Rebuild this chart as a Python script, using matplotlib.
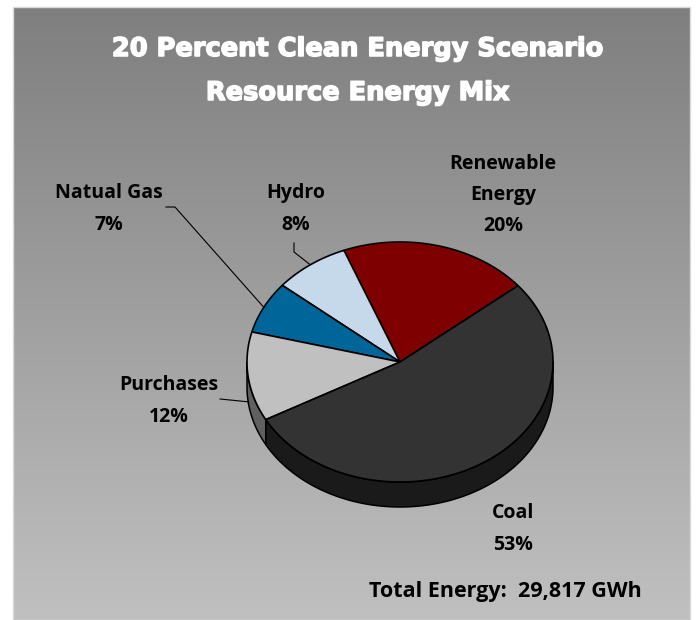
import numpy as np
import matplotlib
matplotlib.use("Agg")
import matplotlib.pyplot as plt
import matplotlib.patheffects as pe
from matplotlib.patches import Polygon, Rectangle
from matplotlib.colors import to_rgb

# ---------------- data ----------------
categories = ["Renewable\nEnergy", "Hydro", "Natual Gas", "Purchases", "Coal"]
shares = [20, 8, 7, 12, 53]
colors = ["#7F0000", "#C6D9EA", "#006699", "#C0C0C0", "#333333"]
title_lines = ["20 Percent Clean Energy Scenario", "Resource Energy Mix"]
total_text = "Total Energy:  29,817 GWh"

# ---------------- layout ----------------
W, H = 696, 620
fig = plt.figure(figsize=(W / 100, H / 100), dpi=100)
fig.patch.set_facecolor("white")
ax = fig.add_axes([0, 0, 1, 1])
ax.axis("off")

# chart area with vertical gradient
fx0, fy0, fx1, fy1 = 13, 7, 690, 620
grad = np.linspace(0, 1, 256).reshape(-1, 1, 1)
top = np.array([127, 127, 127]) / 255
bot = np.array([192, 192, 192]) / 255
img = top + (bot - top) * grad
ax.imshow(img, extent=(fx0, fx1, fy1, fy0), aspect="auto", zorder=0, interpolation="bilinear")
ax.add_patch(Rectangle((fx0, fy0), fx1 - fx0, fy1 - fy0, fill=False,
                       edgecolor="#D9D9D9", lw=1.0, zorder=1))
ax.set_xlim(0, W)
ax.set_ylim(H, 0)

# title
title_font = ["DejaVu Sans"]
for i, line in enumerate(title_lines):
    ax.text(358, 49 + 44 * i, line, ha="center", va="center", color="white",
            fontsize=18.5, fontweight="bold", family=title_font, zorder=5,
            path_effects=[pe.withStroke(linewidth=1.1, foreground="white")])

# ---------------- 3D pie ----------------
cx, cy, rx, ry, depth = 400, 362, 153, 120, 25
start = 39.5
fr = np.array(shares, dtype=float) / sum(shares)
bounds = start + 360 * np.concatenate([[0], np.cumsum(fr)])


def arc(a0, a1, n=120):
    t = np.radians(np.linspace(a0, a1, n))
    return np.column_stack([cx + rx * np.cos(t), cy - ry * np.sin(t)])


def darken(c, f=0.5):
    r, g, b = to_rgb(c)
    return (r * f, g * f, b * f)


# side faces (front half: 180..360 degrees)
for i in range(len(shares)):
    a0, a1 = bounds[i], bounds[i + 1]
    for lo, hi in [(180, 360), (540, 720)]:
        s, e = max(a0, lo), min(a1, hi)
        if e > s:
            pts = arc(s, e)
            low = pts[::-1] + np.array([0, depth])
            poly = np.vstack([pts, low])
            ax.add_patch(Polygon(poly, closed=True, facecolor=darken(colors[i]),
                                 edgecolor="black", lw=1.1, zorder=2,
                                 joinstyle="round"))

# top faces
for i in range(len(shares)):
    a0, a1 = bounds[i], bounds[i + 1]
    pts = np.vstack([[cx, cy], arc(a0, a1)])
    ax.add_patch(Polygon(pts, closed=True, facecolor=colors[i], edgecolor="black",
                         lw=1.2, zorder=3, joinstyle="round"))

# ---------------- labels ----------------
label_font = ["Open Sans", "DejaVu Sans"]
label_pos = [(503, 195), (296, 209), (109, 209), (169, 401), (513, 529)]
leader_start = [None, [(294, 243), (294, 252)], [(166, 207), (175, 207)], [(220, 399)], None]

for i, name in enumerate(categories):
    mid = (bounds[i] + bounds[i + 1]) / 2
    ax.text(label_pos[i][0], label_pos[i][1], f"{name}\n{shares[i]}%", ha="center",
            va="center", fontsize=14, fontweight="bold", family=label_font,
            linespacing=1.75, color="black", zorder=5)
    if leader_start[i] is not None:
        t = np.radians(mid)
        ax_pt = (cx + rx * np.cos(t), cy - ry * np.sin(t))
        if np.sin(t) < 0:
            ax_pt = (ax_pt[0], ax_pt[1] + depth)
        pts = np.array(leader_start[i] + [ax_pt])
        ax.plot(pts[:, 0], pts[:, 1], color="black", lw=0.8, zorder=4)

ax.text(505, 591, total_text, ha="center", va="center", fontsize=15.5,
        fontweight="bold", family=label_font, color="black", zorder=5)

fig.savefig("out.png", dpi=100, facecolor="white")
